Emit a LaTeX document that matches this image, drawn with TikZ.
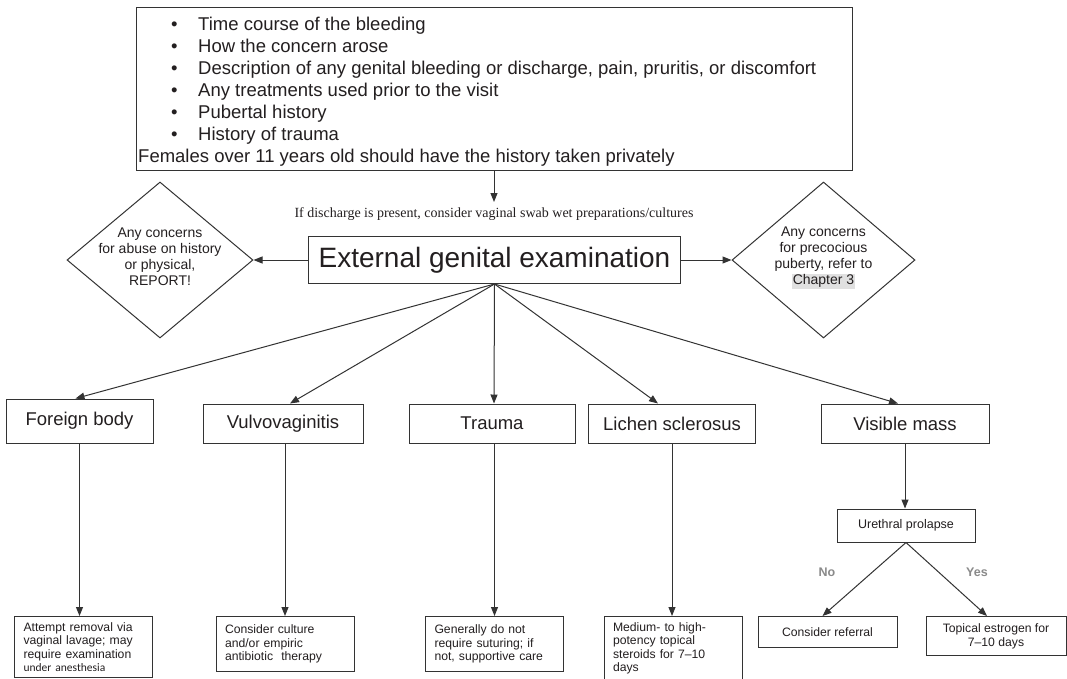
\documentclass[tikz,border=0pt]{standalone}
\usepackage{fontspec}
\setmainfont{Liberation Sans}
\newfontfamily\serifnote{Liberation Serif}
\newfontfamily\carlfont{Carlito}
\usetikzlibrary{arrows.meta,shapes.geometric}
\definecolor{ink}{HTML}{231F20}
\definecolor{edgec}{HTML}{333333}
\definecolor{lblgray}{HTML}{8A8A8A}
\definecolor{hilite}{HTML}{E0E0E0}
\begin{document}
\begin{tikzpicture}[x=1pt,y=-1pt,
  box/.style={draw=edgec, line width=1pt, text=ink},
  mbox/.style={box, font=\fontsize{18.5}{22}\selectfont, minimum height=39pt, inner sep=0pt},
  sbox/.style={box, font=\fontsize{12.2}{13.5}\selectfont, text width=120pt, inner xsep=9pt, inner ysep=6pt, minimum height=55pt, anchor=north, align=left},
  arr/.style={draw=edgec, line width=1pt, -{Triangle[length=9pt,width=7pt]}},
  dia/.style={diamond, draw=edgec, line width=1pt, inner sep=0pt},
  dtext/.style={font=\fontsize{14}{16}\selectfont, align=center, text=ink},
  histline/.style={font=\fontsize{18.5}{22}\selectfont, text=ink, anchor=base west, inner sep=0pt},
  yn/.style={font=\bfseries\fontsize{12.5}{15}\selectfont, text=lblgray}]
\path[use as bounding box, clip] (0,0) rectangle (1067,678);
\fill[white] (0,0) rectangle (1067,678);

% history box
\node[box, minimum width=716pt, minimum height=163pt, inner sep=0pt] (hist) at (494,88.5) {};
\node[histline] (h1) at (138,30) {\makebox[60pt][l]{\hspace{33pt}\textbullet}Time course of the bleeding};
\node[histline] (h2) at (138,52) {\makebox[60pt][l]{\hspace{33pt}\textbullet}How the concern arose};
\node[histline] (h3) at (138,74) {\makebox[60pt][l]{\hspace{33pt}\textbullet}Description of any genital bleeding or discharge, pain, pruritis, or discomfort};
\node[histline] (h4) at (138,96) {\makebox[60pt][l]{\hspace{33pt}\textbullet}Any treatments used prior to the visit};
\node[histline] (h5) at (138,118) {\makebox[60pt][l]{\hspace{33pt}\textbullet}Pubertal history};
\node[histline] (h6) at (138,140) {\makebox[60pt][l]{\hspace{33pt}\textbullet}History of trauma};
\node[histline] (h7) at (138,162) {Females over 11 years old should have the history taken privately};

\coordinate (tipA) at (494,202);
\draw[arr] (hist.south) -- (tipA);
\node[font=\serifnote\fontsize{14}{16}\selectfont, text=ink] (note) at (494,214) {If discharge is present, consider vaginal swab wet preparations/cultures};

% main exam
\node[box, font=\fontsize{28}{32}\selectfont, minimum width=372pt, minimum height=47pt, inner sep=0pt] (exam) at (494.5,260) {External genital examination};

% diamonds
\node[dia, minimum width=186pt, minimum height=156pt] (ldia) at (160,260) {};
\node[dtext] (ltxt) at (160,257) {Any concerns\\for abuse on history\\or physical,\\REPORT!};
\node[dia, minimum width=183pt, minimum height=156pt] (rdia) at (823.5,260) {};
\node[dtext] (rtxt) at (823.5,258) {Any concerns\\for precocious\\puberty, refer to\\{\setlength{\fboxsep}{1pt}\colorbox{hilite}{Chapter 3}}};
\draw[arr] (exam.west) -- (ldia.east);
\draw[arr] (exam.east) -- (rdia.west);

% second row
\node[mbox, minimum width=147pt, minimum height=44pt] (fb) at (79.5,421) {Foreign body};
\node[mbox, minimum width=160pt] (vv) at (283,423.5) {Vulvovaginitis};
\node[mbox, minimum width=166pt] (tr) at (492,423.5) {Trauma};
\node[mbox, minimum width=167pt] (ls) at (672,423.5) {Lichen sclerosus};
\node[mbox, minimum width=168pt] (vm) at (905,423.5) {Visible mass};

\draw[arr] (exam.south) -- ([xshift=-4pt]fb.north);
\draw[arr] (exam.south) -- ([xshift=7pt]vv.north);
\draw[arr] (exam.south) -- ([xshift=2pt]tr.north);
\draw[arr] (exam.south) -- ([xshift=-14pt]ls.north);
\draw[arr] (exam.south) -- ([xshift=-7pt]vm.north);

% bottom row
\node[sbox] (b1) at (83.5,616) {Attempt removal via\\vaginal lavage; may\\require examination\\{\carlfont\fontsize{11.5}{13.5}\selectfont under anesthesia}};
\node[sbox] (b2) at (285,616) {Consider culture\\and/or empiric\\antibiotic\ \ therapy};
\node[sbox] (b3) at (494.5,616) {Generally do not\\require suturing; if\\not, supportive care};
\node[sbox] (b4) at (673,616) {Medium- to high-\\potency topical\\steroids for 7–10\\days};

\draw[arr] (fb.south) -- (fb.south |- b1.north);
\draw[arr] (b2.north |- vv.south) -- (b2.north);
\draw[arr] (b3.north |- tr.south) -- (b3.north);
\draw[arr] (ls.south) -- (ls.south |- b4.north);

% visible mass branch
\node[box, font=\fontsize{12.5}{15}\selectfont, minimum width=138pt, minimum height=33pt, inner sep=0pt] (up) at (906,525.5) {Urethral prolapse};
\node[box, font=\fontsize{12.2}{14}\selectfont, minimum width=139pt, minimum height=31pt, inner sep=0pt, anchor=north] (cr) at (827.5,616) {Consider referral};
\node[box, font=\fontsize{12.2}{14}\selectfont, minimum width=140pt, minimum height=39pt, inner sep=0pt, anchor=north, align=center] (te) at (996,616) {Topical estrogen for\\7–10 days};

\draw[arr] (vm.south) -- (vm.south |- up.north);
\draw[arr] (up.south) -- ([xshift=-5pt]cr.north);
\draw[arr] (up.south) -- ([xshift=-9pt]te.north);
\node[yn] (no) at (827,572) {No};
\node[yn] (yes) at (977,572) {Yes};
\end{tikzpicture}
\end{document}
